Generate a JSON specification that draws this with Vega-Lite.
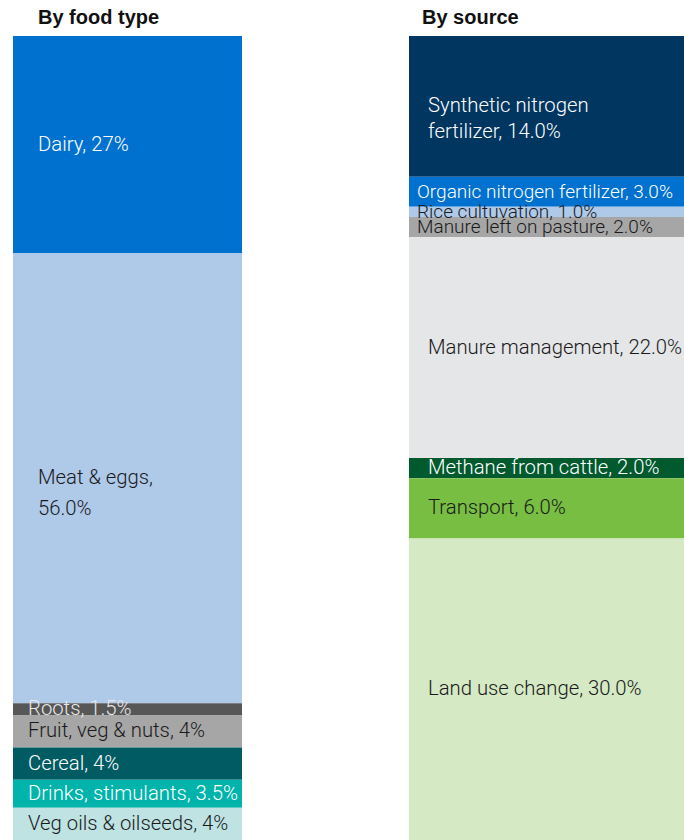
{
  "$schema": "https://vega.github.io/schema/vega-lite/v6.json",
  "padding": {"left": 13, "top": 8, "right": 0, "bottom": 0},
  "background": "white",
  "config": {
    "view": {"stroke": null},
    "title": {"anchor": "start", "font": "Liberation Sans", "fontSize": 20, "fontWeight": "bold", "color": "#111111", "offset": 8},
    "text": {"font": "Roboto", "fontWeight": 300, "fontSize": 20.3, "align": "left", "baseline": "middle", "lineBreak": "\n"}
  },
  "datasets": {
    "food": [
      {"idx": 1, "name": "Dairy", "value": 27, "label": "Dairy, 27%"},
      {"idx": 2, "name": "Meat & eggs", "value": 56, "label": "Meat & eggs,\n56.0%"},
      {"idx": 3, "name": "Roots", "value": 1.5, "label": "Roots, 1.5%"},
      {"idx": 4, "name": "Fruit, veg & nuts", "value": 4, "label": "Fruit, veg & nuts, 4%"},
      {"idx": 5, "name": "Cereal", "value": 4, "label": "Cereal, 4%"},
      {"idx": 6, "name": "Drinks, stimulants", "value": 3.5, "label": "Drinks, stimulants, 3.5%"},
      {"idx": 7, "name": "Veg oils & oilseeds", "value": 4, "label": "Veg oils & oilseeds, 4%"}
    ],
    "source": [
      {"idx": 1, "name": "Synthetic nitrogen fertilizer", "value": 14, "label": "Synthetic nitrogen\nfertilizer, 14.0%"},
      {"idx": 2, "name": "Organic nitrogen fertilizer", "value": 3, "label": "Organic nitrogen fertilizer, 3.0%"},
      {"idx": 3, "name": "Rice cultuvation", "value": 1, "label": "Rice cultuvation, 1.0%"},
      {"idx": 4, "name": "Manure left on pasture", "value": 2, "label": "Manure left on pasture, 2.0%"},
      {"idx": 5, "name": "Manure management", "value": 22, "label": "Manure management, 22.0%"},
      {"idx": 6, "name": "Methane from cattle", "value": 2, "label": "Methane from cattle, 2.0%"},
      {"idx": 7, "name": "Transport", "value": 6, "label": "Transport, 6.0%"},
      {"idx": 8, "name": "Land use change", "value": 30, "label": "Land use change, 30.0%"}
    ]
  },
  "spacing": 167,
  "hconcat": [
    {
      "title": {"text": "By food type", "dx": 25},
      "width": 229,
      "height": 804,
      "data": {"name": "food"},
      "resolve": {"scale": {"color": "independent"}},
      "layer": [
        {
          "mark": {"type": "bar"},
          "encoding": {
            "x": {"datum": "food", "type": "nominal", "scale": {"paddingInner": 0, "paddingOuter": 0}, "axis": null},
            "y": {"field": "value", "type": "quantitative", "stack": "zero", "scale": {"domain": [0, 100], "reverse": true, "nice": false, "zero": true}, "axis": null},
            "order": {"field": "idx", "sort": "ascending"},
            "color": {"field": "name", "type": "nominal", "legend": null,
              "scale": {"domain": ["Dairy", "Meat & eggs", "Roots", "Fruit, veg & nuts", "Cereal", "Drinks, stimulants", "Veg oils & oilseeds"],
                        "range": ["#0071CE", "#AFC9E9", "#575757", "#A6A6A6", "#005B63", "#00B3AB", "#BEE3E2"]}}
          }
        },
        {
          "transform": [
            {"stack": "value", "groupby": [], "sort": [{"field": "idx", "order": "ascending"}], "as": ["v0", "v1"]},
            {"calculate": "(datum.v0 + datum.v1) / 2", "as": "mid"},
            {"filter": "datum.value >= 10"}
          ],
          "mark": {"type": "text", "dx": 25, "lineHeight": 31},
          "encoding": {
            "x": {"datum": "food", "type": "nominal", "bandPosition": 0},
            "y": {"field": "mid", "type": "quantitative"},
            "text": {"field": "label"},
            "color": {"field": "name", "type": "nominal", "legend": null,
              "scale": {"domain": ["Dairy", "Meat & eggs", "Roots", "Fruit, veg & nuts", "Cereal", "Drinks, stimulants", "Veg oils & oilseeds"],
                        "range": ["#FFFFFF", "#1A1A1A", "#E8E8E8", "#1A1A1A", "#FFFFFF", "#FFFFFF", "#1A1A1A"]}}
          }
        },
        {
          "transform": [
            {"stack": "value", "groupby": [], "sort": [{"field": "idx", "order": "ascending"}], "as": ["v0", "v1"]},
            {"calculate": "(datum.v0 + datum.v1) / 2", "as": "mid"},
            {"filter": "datum.value < 10"}
          ],
          "mark": {"type": "text", "dx": 15},
          "encoding": {
            "x": {"datum": "food", "type": "nominal", "bandPosition": 0},
            "y": {"field": "mid", "type": "quantitative"},
            "text": {"field": "label"},
            "color": {"field": "name", "type": "nominal", "legend": null,
              "scale": {"domain": ["Dairy", "Meat & eggs", "Roots", "Fruit, veg & nuts", "Cereal", "Drinks, stimulants", "Veg oils & oilseeds"],
                        "range": ["#FFFFFF", "#1A1A1A", "#E8E8E8", "#1A1A1A", "#FFFFFF", "#FFFFFF", "#1A1A1A"]}}
          }
        }
      ]
    },
    {
      "title": {"text": "By source", "dx": 13},
      "width": 275,
      "height": 804,
      "data": {"name": "source"},
      "resolve": {"scale": {"color": "independent"}},
      "layer": [
        {
          "mark": {"type": "bar"},
          "encoding": {
            "x": {"datum": "source", "type": "nominal", "scale": {"paddingInner": 0, "paddingOuter": 0}, "axis": null},
            "y": {"field": "value", "type": "quantitative", "stack": "zero", "scale": {"domain": [0, 80], "reverse": true, "nice": false, "zero": true}, "axis": null},
            "order": {"field": "idx", "sort": "ascending"},
            "color": {"field": "name", "type": "nominal", "legend": null,
              "scale": {"domain": ["Synthetic nitrogen fertilizer", "Organic nitrogen fertilizer", "Rice cultuvation", "Manure left on pasture", "Manure management", "Methane from cattle", "Transport", "Land use change"],
                        "range": ["#00365F", "#0071CE", "#AFC9E9", "#A6A6A6", "#E5E6E8", "#005A2E", "#78BE43", "#D4E9C4"]}}
          }
        },
        {
          "transform": [
            {"stack": "value", "groupby": [], "sort": [{"field": "idx", "order": "ascending"}], "as": ["v0", "v1"]},
            {"calculate": "(datum.v0 + datum.v1) / 2", "as": "mid"},
            {"filter": {"not": {"field": "name", "oneOf": ["Organic nitrogen fertilizer", "Rice cultuvation", "Manure left on pasture"]}}}
          ],
          "mark": {"type": "text", "dx": 19, "lineHeight": 26},
          "encoding": {
            "x": {"datum": "source", "type": "nominal", "bandPosition": 0},
            "y": {"field": "mid", "type": "quantitative"},
            "text": {"field": "label"},
            "color": {"field": "name", "type": "nominal", "legend": null,
              "scale": {"domain": ["Synthetic nitrogen fertilizer", "Organic nitrogen fertilizer", "Rice cultuvation", "Manure left on pasture", "Manure management", "Methane from cattle", "Transport", "Land use change"],
                        "range": ["#FFFFFF", "#FFFFFF", "#1A1A1A", "#1A1A1A", "#1A1A1A", "#FFFFFF", "#1A1A1A", "#1A1A1A"]}}
          }
        },
        {
          "transform": [
            {"stack": "value", "groupby": [], "sort": [{"field": "idx", "order": "ascending"}], "as": ["v0", "v1"]},
            {"calculate": "(datum.v0 + datum.v1) / 2", "as": "mid"},
            {"filter": {"field": "name", "oneOf": ["Organic nitrogen fertilizer", "Rice cultuvation", "Manure left on pasture"]}}
          ],
          "mark": {"type": "text", "dx": 8, "fontSize": 19},
          "encoding": {
            "x": {"datum": "source", "type": "nominal", "bandPosition": 0},
            "y": {"field": "mid", "type": "quantitative"},
            "text": {"field": "label"},
            "color": {"field": "name", "type": "nominal", "legend": null,
              "scale": {"domain": ["Synthetic nitrogen fertilizer", "Organic nitrogen fertilizer", "Rice cultuvation", "Manure left on pasture", "Manure management", "Methane from cattle", "Transport", "Land use change"],
                        "range": ["#FFFFFF", "#FFFFFF", "#1A1A1A", "#1A1A1A", "#1A1A1A", "#FFFFFF", "#1A1A1A", "#1A1A1A"]}}
          }
        }
      ]
    }
  ]
}
